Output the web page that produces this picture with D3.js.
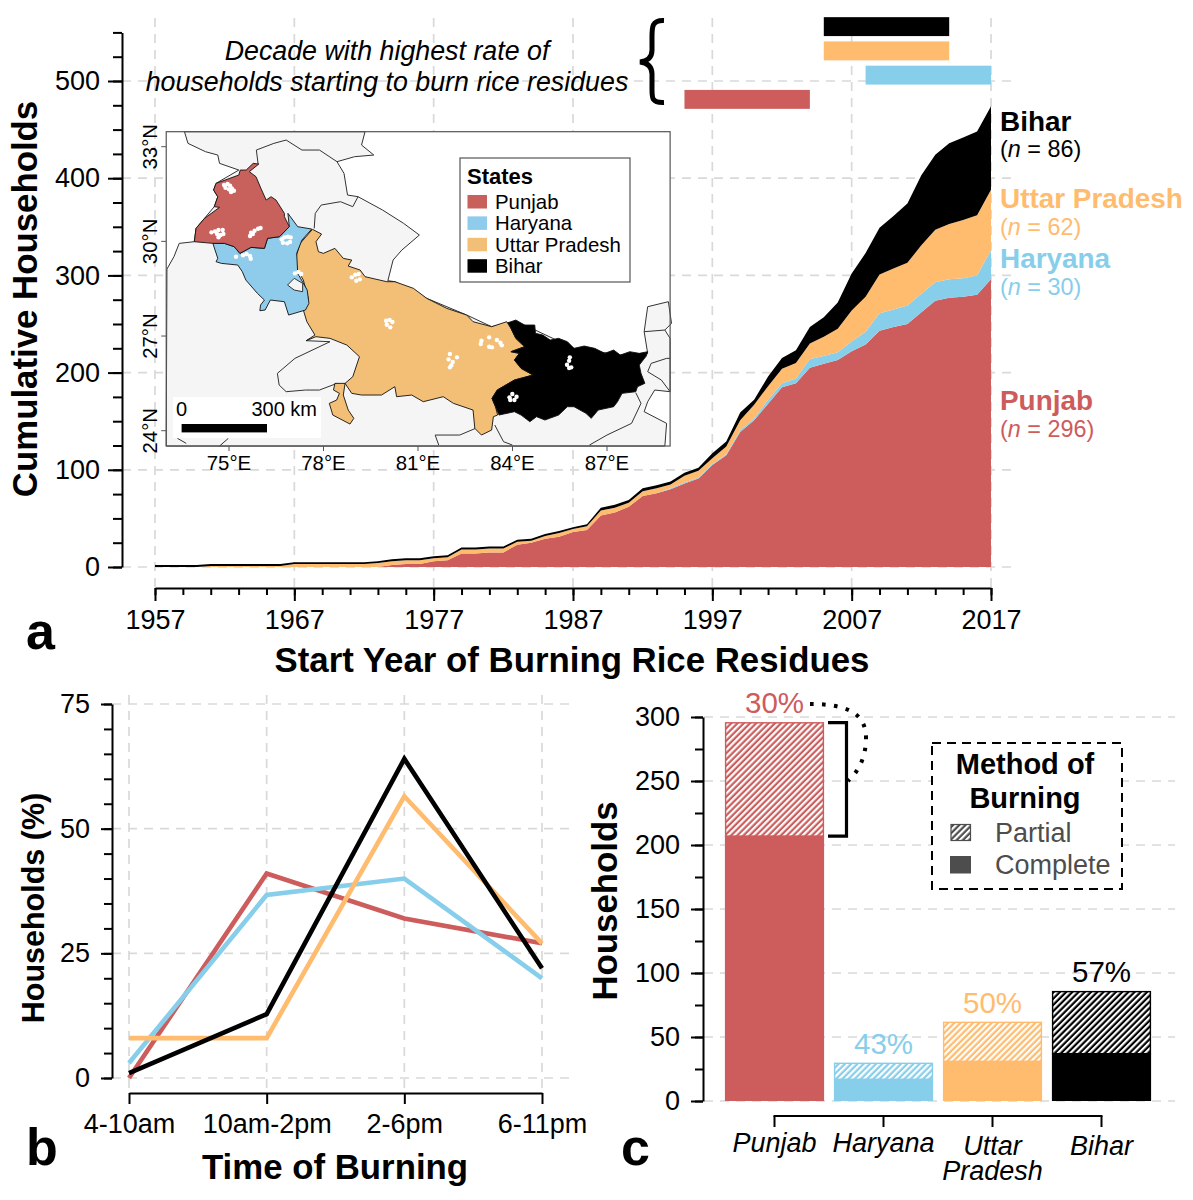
<!DOCTYPE html>
<html><head><meta charset="utf-8">
<script src="https://cdnjs.cloudflare.com/ajax/libs/d3/7.8.5/d3.min.js"></script>
<style>
html,body{margin:0;padding:0;background:#fff}
svg{display:block;font-family:"Liberation Sans",Arial,sans-serif}
.axis text{font-size:27px;fill:#000;stroke:none}
.axis path,.axis line{stroke:#000;stroke-width:2}
.grid line{stroke:#d9d9d9;stroke-width:1.7;stroke-dasharray:9 7;fill:none}
.title{font-weight:bold;font-size:34.8px;text-anchor:middle}
.letter{font-weight:bold;font-size:52px}
</style></head><body><svg id="c" width="1193" height="1200"></svg>
<script>
// ---------- DATA ----------
const states = ["Punjab","Haryana","Uttar Pradesh","Bihar"];
const stateColors = ["#CD5C5C","#87CEEB","#FFBB6E","#000000"];
const mapColors = ["#C8605C","#8FCBEA","#F3BE76","#000000"];
const sampleSizes = [296,30,62,86];

const years = d3.range(1957,2018);
// households having started burning, per year (cumulative per state)
const punjabCum = [0,0,0,0,0,0,0,0,0,0,0,0,0,0,0,0,0,
  2,3,3,6,7,14,14,15,15,23,25,29,31,36,38,53,56,62,73,76,80,86,91,105,115,139,151,168,185,189,205,209,213,222,229,243,247,250,262,274,277,278,280,296];
const haryanaCum = [0,0,0,0,0,0,0,0,0,0,0,0,0,0,0,0,0,0,0,0,0,0,0,0,0,0,0,0,0,0,0,0,0,0,0,0,0,
  1,1,1,1,1,2,2,4,4,5,9,8,8,10,13,18,18,19,19,19,19,19,20,30];
const upCum = [0,0,0,0,1,1,1,1,1,1,3,3,3,3,3,3,4,
  4,4,4,3,3,4,4,4,4,3,2,3,4,3,4,5,5,4,5,5,4,7,7,6,8,10,14,14,15,16,16,20,24,32,36,40,42,44,50,54,57,60,62,62];
const biharCum = [2,2,2,2,2,2,2,2,2,2,2,2,2,2,2,2,2,
  2,2,2,2,2,2,2,2,2,2,2,2,2,2,2,3,3,3,3,3,3,3,3,5,5,8,5,10,11,13,17,20,27,38,45,48,54,61,72,77,83,85,86,86];

const decadeStart = [1995,2008,2005,2005];
const decadeEnd   = [2004,2017,2014,2014];
const decadeRowOrder = [3,2,1,0]; // lane index for Punjab..Bihar (from top = 0)

const yTicksA = d3.range(0,501,100);
const yMinorA = d3.range(0,551,25);
const xTicksA = d3.range(1957,2018,10);
const xMinorA = d3.range(1957,2018,2);

const burnTimes = ["4-10am","10am-2pm","2-6pm","6-11pm"];
const punjabTime = [0,41,32,27];
const haryanaTime = [3,36.7,40,20];
const upTime = [8,8,56.5,27];
const biharTime = [1,12.8,64,22];

const totalHouseholds = [296,30,62,86];
const completeHouseholds = [207,17,31,37];
const partialPct = ["30%","43%","50%","57%"];

// map outlines, traced against the graticule (trace units → degrees through scales below)
const indiaOutline = [[155,35],[165,70],[215,95],[250,105],[255,130],[310,150],[245,190],[238,210],[250,230],[240,260],[212,295],[188,325],[183,365],[140,370],[125,410],[105,447],[103,978],[1525,978],[1530,910],[1466,875],[1476,845],[1496,810],[1540,815],[1540,655],[1525,630],[1544,610],[1535,545],[1476,560],[1466,635],[1476,700],[1400,705],[1266,685],[1125,615],[1078,608],[1031,620],[960,585],[846,535],[755,485],[735,482],[750,420],[775,390],[825,345],[780,310],[720,270],[650,230],[620,225],[610,160],[590,125],[640,110],[695,105],[660,75],[670,35]];
const internalLines = [
 [[365,132],[360,90],[410,70],[445,60],[490,90],[540,90],[590,125]],
 [[525,325],[528,280],[545,255],[600,245],[635,260],[650,230]],
 [[502,662],[570,665],[470,715],[420,760],[425,795],[445,815],[500,810],[540,810],[590,790]],
 [[870,945],[880,975]],[[870,945],[940,945],[985,925]],
 [[1040,915],[1065,965],[1090,975]],
 [[1310,975],[1360,945],[1430,910],[1457,850],[1442,818]],
 [[1476,755],[1486,730],[1530,715],[1540,715]],[[1476,755],[1515,780],[1540,815]],[[1466,635],[1525,630]],
 [[135,955],[160,970]],[[255,978],[280,955]]
];
const punjabOutline = [[367,132],[351,130],[331,150],[314,150],[310,165],[245,190],[238,210],[250,230],[240,260],[255,262],[212,295],[188,325],[183,365],[236,370],[269,370],[297,380],[313,400],[345,382],[383,385],[392,355],[426,350],[454,320],[440,290],[440,280],[416,240],[402,230],[388,240],[373,205],[359,170],[340,155]];
const haryanaOutline = [[236,370],[250,415],[245,425],[260,430],[307,435],[320,455],[330,480],[363,520],[383,540],[372,555],[370,572],[385,570],[400,540],[440,545],[452,585],[500,570],[510,550],[505,510],[478,460],[475,400],[490,360],[518,327],[478,320],[450,280],[454,320],[426,350],[392,355],[383,385],[345,382],[313,400],[297,380],[269,370]];
const delhiOutline = [[449,495],[468,475],[492,490],[492,515],[468,510]];
const upOutline = [[520,328],[546,342],[530,365],[537,395],[551,400],[584,385],[608,415],[632,420],[622,438],[656,450],[670,470],[732,485],[755,485],[808,505],[846,535],[903,565],[960,585],[978,605],[1031,620],[1074,605],[1086,625],[1100,655],[1125,680],[1086,695],[1110,700],[1096,720],[1115,745],[1149,765],[1096,780],[1047,810],[1032,835],[1042,860],[1048,885],[1036,890],[1031,930],[1002,945],[983,925],[978,870],[922,850],[893,830],[836,845],[803,825],[760,830],[755,800],[717,825],[660,825],[632,820],[613,790],[584,790],[580,810],[597,820],[589,840],[568,850],[578,885],[627,912],[638,895],[622,870],[608,825],[613,790],[635,770],[654,710],[618,675],[570,655],[530,650],[502,662],[527,645],[504,605],[494,570],[508,535],[494,480],[475,445],[473,410],[485,370]];
const biharOutline = [[1078,608],[1100,600],[1125,615],[1154,615],[1156,640],[1177,645],[1198,660],[1222,655],[1247,665],[1266,685],[1295,678],[1325,685],[1354,700],[1379,690],[1398,705],[1425,695],[1452,700],[1476,695],[1472,708],[1452,735],[1457,760],[1468,790],[1447,800],[1442,815],[1403,820],[1390,845],[1379,860],[1335,870],[1315,895],[1300,880],[1266,860],[1247,860],[1222,885],[1183,900],[1159,890],[1140,905],[1115,885],[1096,875],[1052,885],[1042,860],[1032,835],[1047,810],[1096,780],[1149,765],[1115,745],[1096,720],[1110,700],[1086,695],[1125,680],[1100,655],[1086,625]];
const villages = [[268,195],[278,192],[272,203],[285,197],[282,208],[290,205],[296,212],[288,216],[232,337],[242,334],[252,330],[264,330],[248,342],[258,345],[266,342],[252,352],[345,338],[355,332],[365,326],[372,324],[342,348],[350,342],[432,358],[440,352],[450,350],[458,352],[436,368],[448,370],[456,366],[302,410],[322,406],[332,402],[342,408],[344,416],[470,460],[480,456],[488,462],[632,472],[642,464],[652,462],[655,478],[645,482],[730,602],[740,600],[748,606],[732,614],[742,622],[1002,662],[1000,672],[1024,652],[1024,680],[1032,682],[1046,660],[1056,668],[1060,676],[912,702],[932,712],[908,718],[920,726],[912,742],[916,736],[1254,712],[1252,722],[1246,734],[1252,744],[1258,742],[1082,832],[1090,822],[1102,830],[1096,840],[1084,840]];

// ---------- SETUP ----------
const svg = d3.select("#c");
const gridH = (g,vals,y,x0,x1)=>g.append("g").attr("class","grid").selectAll("line").data(vals).join("line")
  .attr("x1",x0).attr("x2",x1).attr("y1",d=>y(d)).attr("y2",d=>y(d));
const gridV = (g,vals,x,y0,y1)=>g.append("g").attr("class","grid").selectAll("line").data(vals).join("line")
  .attr("x1",d=>x(d)).attr("x2",d=>x(d)).attr("y1",y0).attr("y2",y1);

const defs = svg.append("defs");
function hatch(id,fill){
  const p = defs.append("pattern").attr("id",id).attr("patternUnits","userSpaceOnUse")
    .attr("width",4.4).attr("height",4.4).attr("patternTransform","rotate(45)");
  p.append("rect").attr("width",4.4).attr("height",4.4).attr("fill",fill);
  p.append("rect").attr("x",0).attr("width",2.2).attr("height",4.4).attr("fill","#fff");
}
stateColors.forEach((c,i)=>hatch("h"+i,c));
hatch("hl","#4d4d4d");

// ---------- PANEL A ----------
const a = svg.append("g");
const xA = d3.scaleLinear().domain([1957,2017]).range([155,991]);
const yA = d3.scaleLinear().domain([0,550]).range([567,32.4]);
gridH(a,yTicksA,yA,122,1018);
gridV(a,xTicksA,xA,18,596);

const table = years.map((yr,i)=>({year:yr,Punjab:punjabCum[i],Haryana:haryanaCum[i],"Uttar Pradesh":upCum[i],Bihar:biharCum[i]}));
const stacked = d3.stack().keys(states)(table);
const area = d3.area().x(d=>xA(d.data.year)).y0(d=>yA(d[0])).y1(d=>yA(d[1]));
a.selectAll("path.layer").data(stacked).join("path").attr("class","layer")
  .attr("fill",(d,i)=>stateColors[i]).attr("d",area);

// decade bars
const laneY = d3.scaleBand().domain([0,1,2,3]).range([14.5,111.5]).paddingInner(0.22).paddingOuter(0.11);
a.selectAll("rect.decade").data(states).join("rect").attr("class","decade")
  .attr("x",(d,i)=>xA(decadeStart[i])).attr("width",(d,i)=>xA(decadeEnd[i])-xA(decadeStart[i]))
  .attr("y",(d,i)=>laneY(decadeRowOrder[i])).attr("height",laneY.bandwidth())
  .attr("fill",(d,i)=>stateColors[i]);

// axes
a.append("g").attr("class","axis").attr("transform","translate(122,0)")
  .call(d3.axisLeft(yA).tickValues(yMinorA).tickSize(9).tickFormat("").tickSizeOuter(0));
a.append("g").attr("class","axis").attr("transform","translate(122,0)")
  .call(d3.axisLeft(yA).tickValues(yTicksA).tickSize(14).tickPadding(8).tickSizeOuter(0))
  .call(g=>g.select(".domain").remove());
a.append("g").attr("class","axis").attr("transform","translate(0,588)")
  .call(d3.axisBottom(xA).tickValues(xMinorA).tickSize(7).tickFormat("").tickSizeOuter(0));
a.append("g").attr("class","axis").attr("transform","translate(0,588)")
  .call(d3.axisBottom(xA).tickValues(xTicksA).tickSize(13).tickPadding(9).tickFormat(d3.format("d")).tickSizeOuter(0))
  .call(g=>g.select(".domain").remove());
a.append("text").attr("class","title").attr("transform","translate(37,299) rotate(-90)").text("Cumulative Households");
a.append("text").attr("class","title").attr("x",572).attr("y",672).text("Start Year of Burning Rice Residues");
a.append("text").attr("class","letter").attr("x",26).attr("y",649).text("a");

// annotation
[["Decade with highest rate of",60],["households starting to burn rice residues",91]].forEach(([t,y])=>
  a.append("text").attr("x",387).attr("y",y).attr("text-anchor","middle").attr("font-style","italic").attr("font-size",26.8).text(t));
a.append("path").attr("fill","none").attr("stroke","#000").attr("stroke-width",5)
  .attr("d","M664,20.5 C651,20 652,28 652,40 L652,50 C652,57 648,61 640,62 C648,63 652,67 652,74 L652,86 C652,98 651,103 664,102.5");

// state labels
const labelY = [[410,437],[268,295],[208,235],[131,157]];
states.forEach((s,i)=>{
  a.append("text").attr("x",1000).attr("y",labelY[i][0]).attr("font-weight","bold").attr("font-size",27.9).attr("fill",stateColors[i]).text(s);
  const t=a.append("text").attr("x",1000).attr("y",labelY[i][1]).attr("font-size",23.4).attr("fill",stateColors[i]);
  t.append("tspan").text("(");t.append("tspan").attr("font-style","italic").text("n");t.append("tspan").text(" = "+sampleSizes[i]+")");
});

// ---------- MAP ----------
const m = svg.append("g");
const traceLon = d3.scaleLinear().domain([282,1360]).range([75,87]);
const traceLat = d3.scaleLinear().domain([932,80]).range([24,33]);
const lonX = d3.scaleLinear().domain([75,87]).range([229,607]);
const latY = d3.scaleLinear().domain([24,33]).range([430.7,146.7]);
const proj = p=>[lonX(traceLon(p[0])),latY(traceLat(p[1]))];
const line = d3.line().x(p=>proj(p)[0]).y(p=>proj(p)[1]);
const frame = {x:lonX(traceLon(103)),y:latY(traceLat(35)),w:lonX(traceLon(1540))-lonX(traceLon(103)),h:latY(traceLat(978))-latY(traceLat(35))};
m.append("rect").attr("x",frame.x).attr("y",frame.y).attr("width",frame.w).attr("height",frame.h).attr("fill","#fff");
m.append("path").attr("d",line(indiaOutline)+"Z").attr("fill","#f5f5f5").attr("stroke","#333").attr("stroke-width",1);
internalLines.forEach(l=>m.append("path").attr("d",line(l)).attr("fill","none").attr("stroke","#333").attr("stroke-width",1));
[[upOutline,2],[haryanaOutline,1],[punjabOutline,0],[biharOutline,3]].forEach(([o,i])=>
  m.append("path").attr("d",line(o)+"Z").attr("fill",mapColors[i]).attr("stroke","#111").attr("stroke-width",0.9).attr("stroke-linejoin","round"));
m.append("path").attr("d",line(delhiOutline)+"Z").attr("fill","#f5f5f5").attr("stroke","#222").attr("stroke-width",0.9);
m.selectAll("circle.v").data(villages).join("circle").attr("class","v")
  .attr("cx",p=>proj(p)[0]).attr("cy",p=>proj(p)[1]).attr("r",2.2).attr("fill","#fff");
m.append("rect").attr("x",frame.x).attr("y",frame.y).attr("width",frame.w).attr("height",frame.h).attr("fill","none").attr("stroke","#555").attr("stroke-width",1.2);
// map axes
const lonTicks=[75,78,81,84,87], latTicks=[24,27,30,33];
lonTicks.forEach(l=>{
  m.append("line").attr("x1",lonX(l)).attr("x2",lonX(l)).attr("y1",frame.y+frame.h).attr("y2",frame.y+frame.h+5).attr("stroke","#555");
  m.append("text").attr("x",lonX(l)).attr("y",470).attr("text-anchor","middle").attr("font-size",20.4).text(l+"°E");
});
latTicks.forEach(l=>{
  m.append("line").attr("x1",frame.x-5).attr("x2",frame.x).attr("y1",latY(l)).attr("y2",latY(l)).attr("stroke","#555");
  m.append("text").attr("transform",`translate(157,${latY(l)}) rotate(-90)`).attr("text-anchor","middle").attr("font-size",20.4).text(l+"°N");
});
// scale bar
m.append("rect").attr("x",173).attr("y",397).attr("width",148).attr("height",41).attr("fill","#fff");
m.append("rect").attr("x",181.6).attr("y",424).attr("width",85.4).attr("height",8.4).attr("fill","#000");
m.append("text").attr("x",181.6).attr("y",416).attr("text-anchor","middle").attr("font-size",20).text("0");
m.append("text").attr("x",317).attr("y",416).attr("text-anchor","end").attr("font-size",20).text("300 km");
// map legend
m.append("rect").attr("x",460).attr("y",158).attr("width",170).attr("height",124).attr("fill","#fff").attr("stroke","#555").attr("stroke-width",1.2);
m.append("text").attr("x",467).attr("y",184).attr("font-weight","bold").attr("font-size",22).text("States");
states.forEach((s,i)=>{
  const yy=195+i*21.4;
  m.append("rect").attr("x",467.5).attr("y",yy).attr("width",19.5).attr("height",13.5).attr("fill",mapColors[i]);
  m.append("text").attr("x",495).attr("y",yy+14).attr("font-size",20.4).text(s);
});

// ---------- PANEL B ----------
const b = svg.append("g");
const xB = d3.scalePoint().domain(burnTimes).range([129,542]);
const yB = d3.scaleLinear().domain([0,75]).range([1078,704]);
gridH(b,[0,25,50,75],yB,112,570);
gridV(b,burnTimes,xB,695,1092);
const lineB = d3.line().x((d,i)=>xB(burnTimes[i])).y(d=>yB(d));
[punjabTime,haryanaTime,upTime,biharTime].forEach((s,i)=>
  b.append("path").attr("d",lineB(s)).attr("fill","none").attr("stroke",stateColors[i]).attr("stroke-width",4.6));
b.append("g").attr("class","axis").attr("transform","translate(112,0)")
  .call(d3.axisLeft(yB).tickValues(d3.range(0,76,5)).tickSize(8).tickFormat("").tickSizeOuter(0));
b.append("g").attr("class","axis").attr("transform","translate(112,0)")
  .call(d3.axisLeft(yB).tickValues([0,25,50,75]).tickSize(11).tickPadding(11).tickSizeOuter(0))
  .call(g=>g.select(".domain").remove());
b.append("g").attr("class","axis").attr("transform","translate(0,1093)")
  .call(d3.axisBottom(xB).tickSize(11).tickPadding(10).tickSizeOuter(0));
b.append("text").attr("class","title").attr("transform","translate(44,908) rotate(-90)").style("font-size","30.5px").text("Households (%)");
b.append("text").attr("class","title").attr("x",335).attr("y",1179).text("Time of Burning");
b.append("text").attr("class","letter").attr("x",26).attr("y",1165).text("b");

// ---------- PANEL C ----------
const c = svg.append("g");
const xC = d3.scaleBand().domain(states).range([720,1156]).paddingInner(0.09).paddingOuter(0.045);
const yC = d3.scaleLinear().domain([0,300]).range([1101,717]);
gridH(c,d3.range(0,301,50),yC,704,1175);
states.forEach((s,i)=>{
  c.append("rect").attr("x",xC(s)+.7).attr("width",xC.bandwidth()-1.4).attr("y",yC(totalHouseholds[i])+.7)
   .attr("height",yC(completeHouseholds[i])-yC(totalHouseholds[i])-.7)
   .attr("fill",`url(#h${i})`).attr("stroke",stateColors[i]).attr("stroke-width",1.4);
  c.append("rect").attr("x",xC(s)).attr("width",xC.bandwidth()).attr("y",yC(completeHouseholds[i]))
   .attr("height",yC(0)-yC(completeHouseholds[i])).attr("fill",stateColors[i]);
  c.append("text").attr("x",xC(s)+xC.bandwidth()/2).attr("y",yC(totalHouseholds[i])-9).attr("text-anchor","middle")
   .attr("font-size",29.5).attr("fill",stateColors[i]).text(partialPct[i]);
});
c.append("g").attr("class","axis").attr("transform","translate(703,0)")
  .call(d3.axisLeft(yC).tickValues(d3.range(0,301,25)).tickSize(8).tickFormat("").tickSizeOuter(0));
c.append("g").attr("class","axis").attr("transform","translate(703,0)")
  .call(d3.axisLeft(yC).tickValues(d3.range(0,301,50)).tickSize(12).tickPadding(11).tickSizeOuter(0))
  .call(g=>g.select(".domain").remove());
const xAxisC = c.append("g").attr("class","axis").attr("transform","translate(0,1116)")
  .call(d3.axisBottom(xC).tickSize(11).tickFormat("").tickSizeOuter(0));
xAxisC.select(".domain").attr("d",`M${xC(states[0])+xC.bandwidth()/2},1V0H${xC(states[3])+xC.bandwidth()/2}V1`);
[["Punjab",1152],["Haryana",1152],["Uttar",1155],["Bihar",1155]].forEach(([t,y],i)=>
  c.append("text").attr("x",xC(states[i])+xC.bandwidth()/2).attr("y",y).attr("text-anchor","middle").attr("font-style","italic").attr("font-size",27).text(t));
c.append("text").attr("x",xC(states[2])+xC.bandwidth()/2).attr("y",1180).attr("text-anchor","middle").attr("font-style","italic").attr("font-size",27).text("Pradesh");
c.append("text").attr("class","title").attr("transform","translate(617,901) rotate(-90)").text("Households");
c.append("text").attr("class","letter").attr("x",621).attr("y",1165).text("c");
// bracket and dotted link
c.append("path").attr("d",`M828,${yC(296)+.5}H846.5V${yC(207)}H828`).attr("fill","none").attr("stroke","#000").attr("stroke-width",3.2);
c.append("path").attr("d","M810,704 C845,704 866,712 866,738 C866,758 858,772 848,781").attr("fill","none").attr("stroke","#000").attr("stroke-width",4).attr("stroke-dasharray","3.5 8.5");
// legend
c.append("rect").attr("x",932).attr("y",743).attr("width",190).attr("height",146).attr("fill","#fff").attr("stroke","#000").attr("stroke-width",2).attr("stroke-dasharray","9 6");
c.append("text").attr("x",1025).attr("y",774).attr("text-anchor","middle").attr("font-weight","bold").attr("font-size",29).text("Method of");
c.append("text").attr("x",1025).attr("y",808).attr("text-anchor","middle").attr("font-weight","bold").attr("font-size",29).text("Burning");
c.append("rect").attr("x",951).attr("y",824.5).attr("width",19.5).attr("height",16).attr("fill","url(#hl)").attr("stroke","#4d4d4d").attr("stroke-width",1.2);
c.append("rect").attr("x",950).attr("y",856).attr("width",21).attr("height",17.5).attr("fill","#4d4d4d");
c.append("text").attr("x",995).attr("y",842).attr("font-size",27).attr("fill","#4d4d4d").text("Partial");
c.append("text").attr("x",995).attr("y",874).attr("font-size",27).attr("fill","#4d4d4d").text("Complete");
</script></body></html>
